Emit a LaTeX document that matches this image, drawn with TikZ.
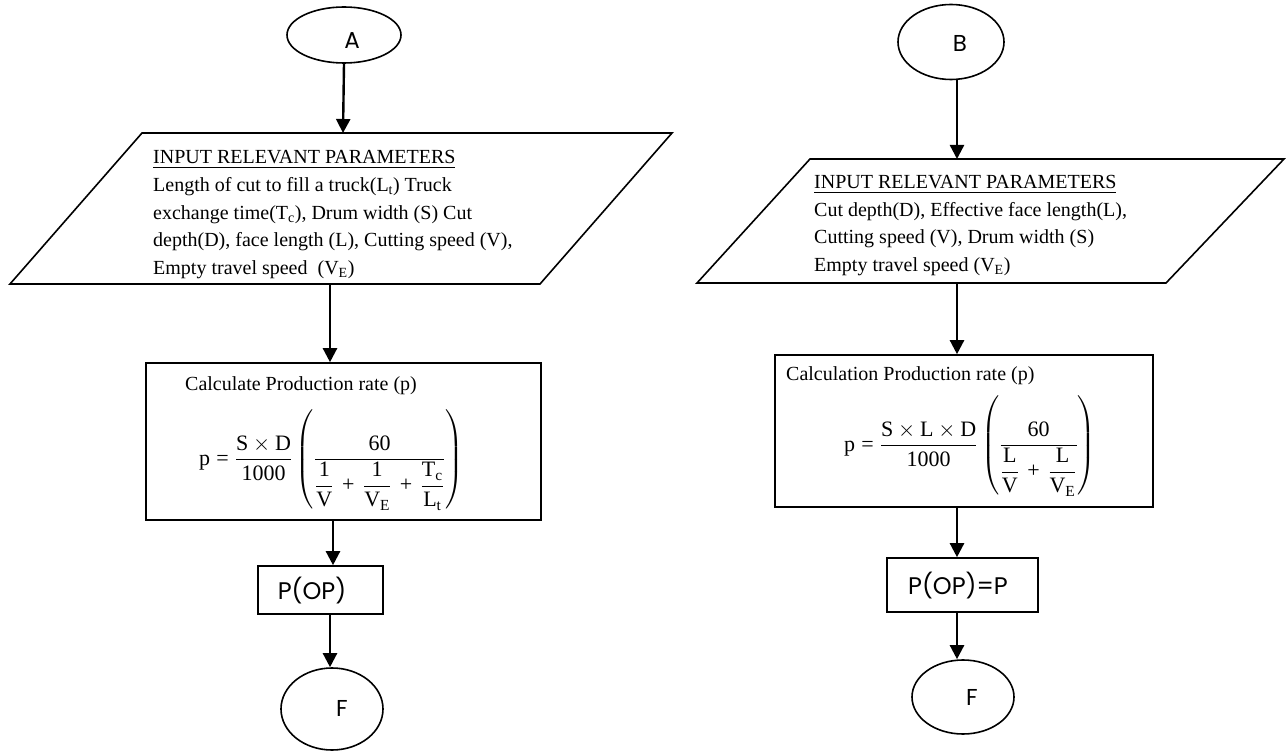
\documentclass[tikz,border=0pt]{standalone}
\usepackage{fix-cm}
\usepackage{amsmath}
\usepackage{fontspec}
\setmainfont{Liberation Serif}
\newfontfamily\gothic{Poppins}
\usetikzlibrary{arrows.meta,shapes.geometric}
% upright text-font operators for the formulas
\newcommand{\tplus}{\mathbin{\,\text{+}\,}}
\newcommand{\teq}{\mathrel{\text{=}}}
\newcommand{\tnum}[1]{\text{#1}}

\begin{document}
\begin{tikzpicture}[x=1pt,y=-1pt,
  outline/.style={draw=black, line width=1.6pt},
  flow/.style={line width=2.4pt, -{Triangle[width=14pt,length=14pt]}},
  term/.style={ellipse, outline, inner sep=0pt},
  proc/.style={rectangle, outline, inner sep=0pt},
  letter/.style={font=\gothic\fontsize{23}{26}\selectfont, inner sep=0pt},
  optext/.style={font=\gothic\fontsize{24}{28}\selectfont, inner sep=0pt},
  ln/.style={anchor=base west, inner sep=0pt, font=\fontsize{20}{24}\selectfont},
  formula/.style={anchor=base west, inner sep=0pt, font=\fontsize{22}{26}\selectfont},
]
\useasboundingbox (0,0) rectangle (1286,751);

% ---------------- left branch (A) ----------------
\node[term, minimum width=114pt, minimum height=56pt] (A) at (344,35) {};
\node[letter] (Aletter) at (352,41) {A};

\coordinate (inA-bl) at (10,284);
\coordinate (inA-tl) at (142,133);
\coordinate (inA-tr) at (672,133);
\coordinate (inA-br) at (540,284);
\draw[outline, line join=miter] (inA-bl) -- (inA-tl) -- (inA-tr) -- (inA-br) -- cycle;
\coordinate (inA-in) at (343,133);
\coordinate (inA-out) at (330,284);

\node[ln] (inA1) at (153,164) {\underline{INPUT RELEVANT PARAMETERS}};
\node[ln] (inA2) at (153,192) {Length of cut to fill a truck(L\textsubscript{t}) Truck};
\node[ln] (inA3) at (153,219.5) {exchange time(T\textsubscript{c}), Drum width (S) Cut};
\node[ln] (inA4) at (153,247) {depth(D), face length (L), Cutting speed (V),};
\node[ln] (inA5) at (153,274.5) {Empty travel speed\ \ (V\textsubscript{E})};

\node[proc, minimum width=395pt, minimum height=157pt] (calcA) at (343.5,441.5) {};
\node[ln] (calcAt) at (185,391) {Calculate Production rate (p)};
\node[formula] (fA) at (199,465)
  {$\mathrm{p}\teq\dfrac{\mathrm{S}\times\mathrm{D}}{\tnum{1000}}\left(\dfrac{\tnum{60}}{\dfrac{\tnum{1}}{\mathrm{V}}\tplus\dfrac{\tnum{1}}{\mathrm{V}_{\mathrm{E}}}\tplus\dfrac{\mathrm{T}_{\mathrm{c}}}{\mathrm{L}_{\mathrm{t}}}}\right)$};
\coordinate (calcA-out) at (333,520);

\node[proc, minimum width=125pt, minimum height=48pt] (pA) at (320.5,590) {};
\node[optext] (pAt) at (312,591) {P(OP)};
\coordinate (pA-out) at (330,614);

\node[term, minimum width=102pt, minimum height=82pt] (FA) at (332,709) {};
\node[letter] (FAletter) at (342,708) {F};

\draw[flow] (A.south) -- (inA-in);
\draw[flow] (inA-out) -- (calcA.north -| inA-out);
\draw[flow] (calcA-out) -- (pA.north -| calcA-out);
\draw[flow] (pA-out) -- (FA.north -| pA-out);

% ---------------- right branch (B) ----------------
\node[term, minimum width=106pt, minimum height=75pt] (B) at (951,42) {};
\node[letter] (Bletter) at (960,43) {B};

\coordinate (inB-bl) at (697,283);
\coordinate (inB-tl) at (810,159);
\coordinate (inB-tr) at (1284,159);
\coordinate (inB-br) at (1166,283);
\draw[outline, line join=miter] (inB-bl) -- (inB-tl) -- (inB-tr) -- (inB-br) -- cycle;
\coordinate (inB-in) at (957,159);
\coordinate (inB-out) at (957,283);

\node[ln] (inB1) at (814,189) {\underline{INPUT RELEVANT PARAMETERS}};
\node[ln] (inB2) at (814,216.5) {Cut depth(D), Effective face length(L),};
\node[ln] (inB3) at (814,244) {Cutting speed (V), Drum width (S)};
\node[ln] (inB4) at (814,271.5) {Empty travel speed (V\textsubscript{E})};

\node[proc, minimum width=378pt, minimum height=152pt] (calcB) at (964,431) {};
\node[ln] (calcBt) at (786,381) {Calculation Production rate (p)};
\node[formula] (fB) at (844,451)
  {$\mathrm{p}\teq\dfrac{\mathrm{S}\times\mathrm{L}\times\mathrm{D}}{\tnum{1000}}\left(\dfrac{\tnum{60}}{\dfrac{\mathrm{L}}{\mathrm{V}}\tplus\dfrac{\mathrm{L}}{\mathrm{V}_{\mathrm{E}}}}\right)$};
\coordinate (calcB-out) at (957,507);

\node[proc, minimum width=151pt, minimum height=54pt] (pB) at (962.5,585) {};
\node[optext] (pBt) at (958,586) {P(OP)=P};
\coordinate (pB-out) at (957,612);

\node[term, minimum width=102pt, minimum height=74pt] (FB) at (963,697) {};
\node[letter] (FBletter) at (972,697) {F};

\draw[flow] (inB-in |- B.south) -- (inB-in);
\draw[flow] (inB-out) -- (calcB.north -| inB-out);
\draw[flow] (calcB-out) -- (pB.north -| calcB-out);
\draw[flow] (pB-out) -- (FB.north -| pB-out);
\end{tikzpicture}
\end{document}
